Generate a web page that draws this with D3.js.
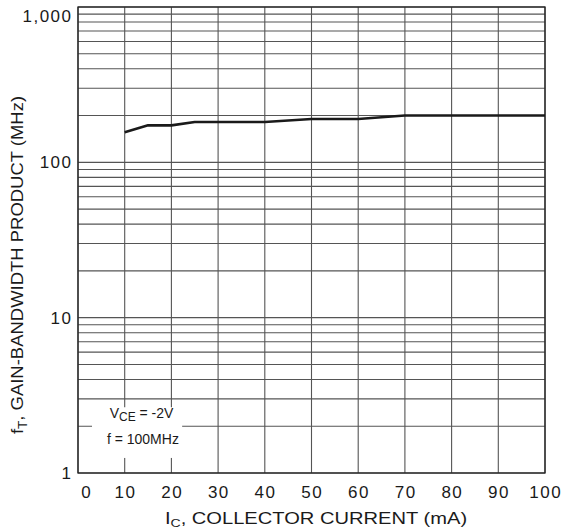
<!DOCTYPE html>
<meta charset="utf-8">
<style>
  body { margin: 0; background: #fff; }
  text { font-family: "Liberation Sans", Arial, sans-serif; fill: #1a1a1a; }
  .grid line { stroke: #555; stroke-width: 1.1px; }
  .tick-label { font-size: 17px; letter-spacing: 1.5px; }
  .title { font-size: 16.5px; }
  .curve { fill: none; stroke: #1a1a1a; stroke-width: 2.6px; stroke-linejoin: round; }
</style>
<body>
  <script src="https://cdnjs.cloudflare.com/ajax/libs/d3/7.8.5/d3.min.js"></script>
  <script>
    // collector current (mA) and gain-bandwidth product (MHz)
    var currentMA = [10, 15, 20, 25, 40, 50, 60, 70, 100];
    var ftMHz = [156, 173, 173, 182, 182, 190, 190, 200, 200];

    var xTicks = [0, 10, 20, 30, 40, 50, 60, 70, 80, 90, 100];
    var yLabelTicks = [1, 10, 100, 1000];
    var yLabelText = ["1", "10", "100", "1,000"];

    var margin = { top: 7, right: 19, bottom: 58, left: 78 };
    var width = 564 - margin.left - margin.right,
      height = 531 - margin.top - margin.bottom;

    var svg = d3.select("body").append("svg")
      .attr("width", 564)
      .attr("height", 531);

    var g = svg.append("g")
      .attr("transform", "translate(" + margin.left + "," + margin.top + ")");

    var x = d3.scaleLinear().domain([0, 100]).range([0, width]);
    var y = d3.scaleLog().domain([1, 1000]).range([height, 0]);

    // every 1..9 step of each decade
    var yGrid = [];
    [1, 10, 100].forEach(function (dec) {
      for (var k = 1; k < 10; k++) yGrid.push(dec * k);
    });
    yGrid.push(1000);

    var grid = g.append("g").attr("class", "grid");
    grid.selectAll(".h")
      .data(yGrid)
      .enter().append("line")
      .attr("class", "h")
      .attr("x1", 0).attr("x2", width)
      .attr("y1", function (d) { return y(d); })
      .attr("y2", function (d) { return y(d); });

    grid.selectAll(".v")
      .data(xTicks)
      .enter().append("line")
      .attr("class", "v")
      .attr("y1", 0).attr("y2", height)
      .attr("x1", function (d) { return x(d); })
      .attr("x2", function (d) { return x(d); });

    // frame
    g.append("rect")
      .attr("width", width).attr("height", height)
      .style("fill", "none").style("stroke", "#222").style("stroke-width", 1.3);

    // the curve
    var line = d3.line()
      .x(function (d, i) { return x(currentMA[i]); })
      .y(function (d) { return y(d); });

    g.append("path")
      .attr("class", "curve")
      .attr("d", line(ftMHz));

    // conditions box, blanks out the grid behind it
    g.append("rect")
      .attr("x", x(3)).attr("y", y(2.65))
      .attr("width", x(19.3) - x(0)).attr("height", y(1.25) - y(2.65))
      .style("fill", "#fff");

    var note = g.append("text")
      .attr("text-anchor", "middle")
      .style("font-size", "14px");
    var n1 = note.append("tspan").attr("x", x(13.6)).attr("y", y(2.26));
    n1.append("tspan").text("V");
    n1.append("tspan").attr("dy", 3).style("font-size", "12px").text("CE");
    n1.append("tspan").attr("dy", -3).text(" = -2V");
    note.append("tspan").attr("x", x(13.9)).attr("y", y(1.53)).text("f = 100MHz");

    // tick labels
    g.selectAll(".xl")
      .data(xTicks)
      .enter().append("text")
      .attr("class", "tick-label")
      .attr("text-anchor", "middle")
      .attr("x", function (d) { return x(d) + (d === 0 ? 8 : 0) + 0.75; })
      .attr("y", height + 25)
      .text(function (d) { return d; });

    g.selectAll(".yl")
      .data(yLabelTicks)
      .enter().append("text")
      .attr("class", "tick-label")
      .attr("text-anchor", "end")
      .attr("x", -5.5)
      .attr("y", function (d) { return y(d) + (d === 1000 ? 9 : 0); })
      .attr("dy", "0.36em")
      .text(function (d, i) { return yLabelText[i]; });

    // axis titles, stretched a little to the reference's wide face
    var xt = svg.append("text")
      .attr("class", "title")
      .attr("text-anchor", "middle")
      .attr("transform", "translate(316,524) scale(1.22,1)");
    xt.append("tspan").text("I");
    xt.append("tspan").attr("dy", 3).style("font-size", "11.5px").text("C");
    xt.append("tspan").attr("dy", -3).text(", COLLECTOR CURRENT (mA)");

    var yt = svg.append("text")
      .attr("class", "title")
      .attr("text-anchor", "middle")
      .attr("transform", "translate(23,265) rotate(-90) scale(1.12,1)");
    yt.append("tspan").text("f");
    yt.append("tspan").attr("dy", 4).style("font-size", "12px").text("T");
    yt.append("tspan").attr("dy", -4).text(", GAIN-BANDWIDTH PRODUCT (MHz)");
  </script>
</body>
